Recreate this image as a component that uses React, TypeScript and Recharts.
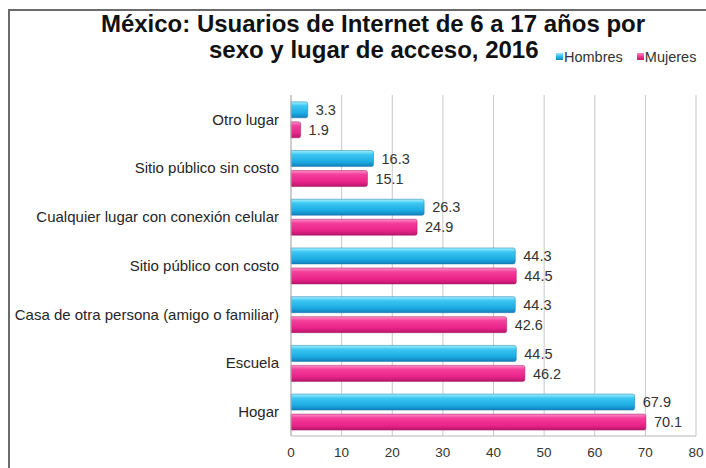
import React from "react";
import {
  BarChart,
  Bar,
  XAxis,
  YAxis,
  CartesianGrid,
  LabelList,
} from "recharts";

const lugares = [
  "Otro lugar",
  "Sitio público sin costo",
  "Cualquier lugar con conexión celular",
  "Sitio público con costo",
  "Casa de otra persona (amigo o familiar)",
  "Escuela",
  "Hogar",
];
const hombres = [3.3, 16.3, 26.3, 44.3, 44.3, 44.5, 67.9];
const mujeres = [1.9, 15.1, 24.9, 44.5, 42.6, 46.2, 70.1];
const xTicks = [0, 10, 20, 30, 40, 50, 60, 70, 80];

const data = lugares.map((lugar, i) => ({
  lugar,
  Hombres: hombres[i],
  Mujeres: mujeres[i],
}));

const FONT = '"Liberation Sans", Arial, sans-serif';

function LegendBox() {
  const item = (label: string, grad: string) => (
    <span style={{ display: "inline-flex", alignItems: "center", marginRight: 14 }}>
      <span
        style={{
          width: 7,
          height: 7,
          background: grad,
          display: "inline-block",
          marginRight: 1,
        }}
      />
      {label}
    </span>
  );
  return (
    <div
      style={{
        position: "absolute",
        left: 556,
        top: 47,
        fontFamily: FONT,
        fontSize: 14.5,
        color: "#333",
        whiteSpace: "nowrap",
      }}
    >
      {item("Hombres", "linear-gradient(#8eeaff, #1fb0e6 60%, #1484c0)")}
      {item("Mujeres", "linear-gradient(#ff88c6, #ee2a8d 60%, #c01870)")}
    </div>
  );
}

export default function App() {
  return (
    <div
      style={{
        position: "absolute",
        left: 0,
        top: 0,
        width: 706,
        height: 468,
        overflow: "hidden",
        background: "#fff",
        fontFamily: FONT,
      }}
    >
      <div
        style={{
          position: "absolute",
          left: 8,
          top: 9,
          width: 720,
          height: 480,
          borderTop: "2px solid #6a6a6a",
          borderLeft: "2px solid #6a6a6a",
        }}
      />
      <div
        style={{
          position: "absolute",
          left: 0,
          top: 11,
          width: 746,
          textAlign: "center",
          fontWeight: "bold",
          fontSize: 24,
          color: "#111",
          lineHeight: "26px",
          whiteSpace: "nowrap",
        }}
      >
        México: Usuarios de Internet de 6 a 17 años por
      </div>
      <div
        style={{
          position: "absolute",
          left: 209,
          top: 37,
          fontWeight: "bold",
          fontSize: 24,
          color: "#111",
          lineHeight: "26px",
          whiteSpace: "nowrap",
        }}
      >
        sexo y lugar de acceso, 2016
      </div>
      <BarChart
        width={706}
        height={468}
        data={data}
        layout="vertical"
        margin={{ top: 95, right: 10, bottom: 2, left: 0 }}
        barCategoryGap="14%"
        barGap={4}
        style={{ position: "absolute", left: 0, top: 0 }}
      >
        <defs>
          <linearGradient id="gH" x1="0" y1="0" x2="0" y2="1">
            <stop offset="0%" stopColor="#a4f2ff" />
            <stop offset="25%" stopColor="#3cc6f2" />
            <stop offset="70%" stopColor="#1cace3" />
            <stop offset="100%" stopColor="#137fbb" />
          </linearGradient>
          <linearGradient id="gM" x1="0" y1="0" x2="0" y2="1">
            <stop offset="0%" stopColor="#ff8fca" />
            <stop offset="25%" stopColor="#f43e9b" />
            <stop offset="70%" stopColor="#ea248a" />
            <stop offset="100%" stopColor="#b8166b" />
          </linearGradient>
        </defs>
        <CartesianGrid horizontal={false} stroke="#c8c8c8" />
        <XAxis
          type="number"
          domain={[0, 80]}
          ticks={xTicks}
          interval={0}
          tickLine={false}
          tickMargin={5}
          axisLine={{ stroke: "#b8b8b8" }}
          tick={{ fontSize: 13.5, fill: "#333", fontFamily: FONT }}
          height={30}
        />
        <YAxis
          type="category"
          dataKey="lugar"
          width={291}
          tickLine={false}
          tickMargin={6}
          interval={0}
          axisLine={{ stroke: "#b8b8b8" }}
          tick={{ fontSize: 15, fill: "#262626", fontFamily: FONT }}
        />
        <Bar
          dataKey="Hombres"
          fill="url(#gH)"
          stroke="#1478b0"
          strokeWidth={0.5}
          radius={[0, 2, 2, 0]}
          isAnimationActive={false}
        >
          <LabelList
            dataKey="Hombres"
            position="right"
            offset={8}
            style={{ fontSize: 14.5, fill: "#333", fontFamily: FONT }}
          />
        </Bar>
        <Bar
          dataKey="Mujeres"
          fill="url(#gM)"
          stroke="#a8145f"
          strokeWidth={0.5}
          radius={[0, 2, 2, 0]}
          isAnimationActive={false}
        >
          <LabelList
            dataKey="Mujeres"
            position="right"
            offset={8}
            style={{ fontSize: 14.5, fill: "#333", fontFamily: FONT }}
          />
        </Bar>
      </BarChart>
      <LegendBox />
    </div>
  );
}
